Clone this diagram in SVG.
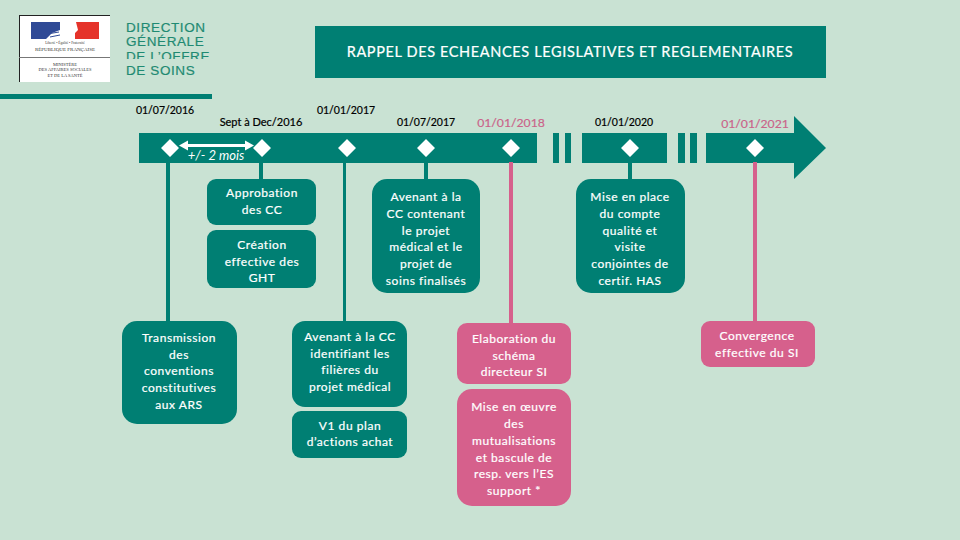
<svg xmlns="http://www.w3.org/2000/svg" width="960" height="540" viewBox="0 0 960 540">
<style>
text{font-family:"Lato","Open Sans","Liberation Sans",sans-serif}
.t{fill:#007f73}.p{fill:#d6608c}
.l{fill:#fff;font-size:12px;text-anchor:middle;letter-spacing:.55px;stroke:#fff;stroke-width:.2px}
.d{fill:#000;font-size:10.5px;text-anchor:middle;stroke:#000;stroke-width:.2px}
.dp{fill:#c9648a;font-size:12.2px;text-anchor:middle;stroke:#c9648a;stroke-width:.2px}
.dm{fill:#fff}
.o{font-size:13.5px;fill:#1f8a72;font-family:"Liberation Sans",sans-serif;letter-spacing:.6px;stroke:#1f8a72;stroke-width:.2px}
.s{font-family:"Liberation Serif",serif;text-anchor:middle;fill:#333}
</style>
<rect width="960" height="540" fill="#c9e2d3"/>
<g id="logo">
<rect x="19" y="15" width="91" height="67" fill="#fff"/>
<path d="M19 15.500H110" stroke="#222" fill="none"/><path d="M19.500 15V82" stroke="#222" fill="none"/>
<rect x="31" y="22" width="30" height="17" fill="#2f4a96"/>
<rect x="75" y="22" width="24" height="17" fill="#e5332a"/>
<path d="M60 22H76L78 30L75 33L72 39H60L46 39L52 33L60 30Z" fill="#fff"/>
<path d="M47 34L59 32M50 37L60 35" stroke="#2f4a96" fill="none"/>
<text class="s" x="65" y="44" font-size="3.500">Liberté • Égalité • Fraternité</text>
<text class="s" x="65" y="51" font-size="5">RÉPUBLIQUE FRANÇAISE</text>
<path d="M19 57.500H110" stroke="#777" fill="none"/>
<text class="s" x="65" y="66" font-size="4.500">MINISTÈRE</text>
<text class="s" x="65" y="71" font-size="4.500">DES AFFAIRES SOCIALES</text>
<text class="s" x="65" y="77" font-size="4.500">ET DE LA SANTÉ</text>
<text class="o" x="126" y="32">DIRECTION</text>
<text class="o" x="126" y="46">GÉNÉRALE</text>
<text class="o" x="126" y="61">DE L’OFFRE</text>
<rect x="124" y="59" width="90" height="3" fill="#c9e2d3"/>
<text class="o" x="126" y="75">DE SOINS</text>
<rect x="0" y="94" width="212" height="5" class="t"/>
</g>
<g id="title">
<rect x="315" y="26" width="511" height="52" class="t"/>
<text x="570" y="57" fill="#fff" stroke="#fff" stroke-width=".2" font-size="14.500" letter-spacing=".63" text-anchor="middle">RAPPEL DES ECHEANCES LEGISLATIVES ET REGLEMENTAIRES</text>
</g>
<g id="timeline">
<path class="t" d="M139 133H537V163H139ZM553 133H559V163H553ZM565 133H571V163H565ZM582 133H667V163H582ZM678 133H685V163H678ZM690 133H697V163H690ZM706 133H794V116L826 148L794 179V163H706Z"/>
<path class="dm" d="M161 148L170 139L179 148L170 157ZM253 148L262 139L271 148L262 157ZM338 148L347 139L356 148L347 157ZM417 148L426 139L435 148L426 157ZM502 148L511 139L520 148L511 157ZM621 148L630 139L639 148L630 157ZM746 148L755 139L764 148L755 157Z"/>
<path d="M179 145.500L188 140.500V144H245V140.500L254 145.500L245 150.500V147H188V150.500Z" fill="#fff"/>
<text x="216" y="160" fill="#fff" font-size="13" font-style="italic" text-anchor="middle">+/- 2 mois</text>
</g>
<g id="dates">
<text class="d" x="165" y="114">01/07/2016</text>
<text class="d" style="font-size:11px" x="261" y="126">Sept à Dec/2016</text>
<text class="d" x="346" y="114">01/01/2017</text>
<text class="d" x="426" y="126">01/07/2017</text>
<text class="dp" x="511" y="127">01/01/2018</text>
<text class="d" x="624" y="126">01/01/2020</text>
<text class="dp" x="755" y="128">01/01/2021</text>
</g>
<g id="connectors">
<path class="t" d="M166 163H170V321H166ZM259 163H263V180H259ZM343 163H346V321H343ZM424 163H428V180H424ZM628 163H632V180H628Z"/>
<path class="p" d="M509 162H513V323H509ZM753 162H757V321H753Z"/>
</g>
<g id="n1"><rect x="122" y="321" width="115" height="103" rx="15" class="t"/>
<text class="l" x="179" y="342">Transmission</text><text class="l" x="179" y="359">des</text><text class="l" x="179" y="375">conventions</text><text class="l" x="179" y="392">constitutives</text><text class="l" x="179" y="409">aux ARS</text></g>
<g id="n2"><rect x="207" y="179" width="109" height="46" rx="9" class="t"/>
<text class="l" x="262" y="197">Approbation</text><text class="l" x="262" y="214">des CC</text></g>
<g id="n3"><rect x="207" y="230" width="109" height="58" rx="9" class="t"/>
<text class="l" x="262" y="249">Création</text><text class="l" x="262" y="266">effective des</text><text class="l" x="262" y="282">GHT</text></g>
<g id="n4"><rect x="292" y="321" width="115" height="86" rx="13" class="t"/>
<text class="l" x="350" y="341">Avenant à la CC</text><text class="l" x="350" y="358">identifiant les</text><text class="l" x="350" y="374">filières du</text><text class="l" x="350" y="391">projet médical</text></g>
<g id="n5"><rect x="292" y="411" width="115" height="47" rx="9" class="t"/>
<text class="l" x="350" y="430">V1 du plan</text><text class="l" x="350" y="446">d’actions achat</text></g>
<g id="n6"><rect x="372" y="179" width="108" height="114" rx="15" class="t"/>
<text class="l" x="426" y="201">Avenant à la</text><text class="l" x="426" y="218">CC contenant</text><text class="l" x="426" y="235">le projet</text><text class="l" x="426" y="251">médical et le</text><text class="l" x="426" y="268">projet de</text><text class="l" x="426" y="285">soins finalisés</text></g>
<g id="n7"><rect x="457" y="323" width="114" height="61" rx="10" class="p"/>
<text class="l" x="514" y="343">Elaboration du</text><text class="l" x="514" y="360">schéma</text><text class="l" x="514" y="376">directeur SI</text></g>
<g id="n8"><rect x="457" y="389" width="114" height="117" rx="15" class="p"/>
<text class="l" x="514" y="411">Mise en œuvre</text><text class="l" x="514" y="428">des</text><text class="l" x="514" y="445">mutualisations</text><text class="l" x="514" y="462">et bascule de</text><text class="l" x="514" y="478">resp. vers l’ES</text><text class="l" x="514" y="495">support *</text></g>
<g id="n9"><rect x="576" y="179" width="109" height="114" rx="15" class="t"/>
<text class="l" x="630" y="201">Mise en place</text><text class="l" x="630" y="218">du compte</text><text class="l" x="630" y="235">qualité et</text><text class="l" x="630" y="251">visite</text><text class="l" x="630" y="268">conjointes de</text><text class="l" x="630" y="285">certif. HAS</text></g>
<g id="n10"><rect x="701" y="321" width="114" height="46" rx="9" class="p"/>
<text class="l" x="757" y="340">Convergence</text><text class="l" x="757" y="357">effective du SI</text></g>
</svg>
